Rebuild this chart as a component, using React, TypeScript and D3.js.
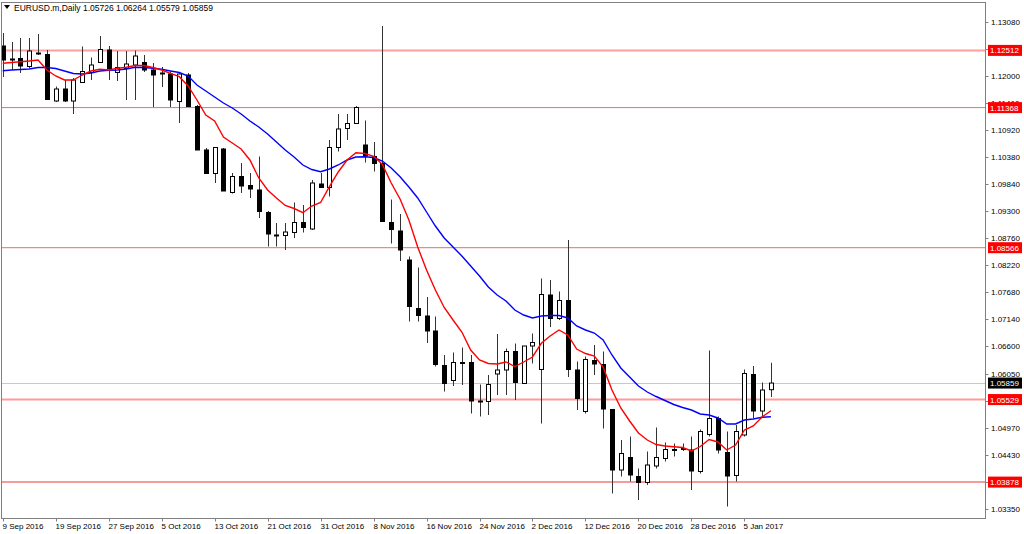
import React from 'react';
import * as d3 from 'd3';

const W = 1024;
const H = 534;

const symbolTitle = 'EURUSD.m,Daily';
const headerValues = ['1.05726', '1.06264', '1.05579', '1.05859'];

// OHLC per daily bar (9 Sep 2016 .. 10 Jan 2017)
const opens = [
  1.1260, 1.1233, 1.1235, 1.1219, 1.1246, 1.1243, 1.1150, 1.1174, 1.1150, 1.1187,
  1.1207, 1.1227, 1.1252, 1.1207, 1.1215, 1.1222, 1.1227, 1.1212, 1.1206, 1.1204,
  1.1149, 1.1202, 1.1139, 1.1052, 1.1005, 1.1054, 1.0967, 1.0999, 1.0981, 1.0972,
  1.0927, 1.0882, 1.0881, 1.0887, 1.0907, 1.0894, 1.0984, 1.0977, 1.1057, 1.1095,
  1.1105, 1.1062, 1.1039, 1.1025, 1.0907, 1.0890, 1.0832, 1.0735, 1.0720, 1.0690,
  1.0621, 1.0591, 1.0627, 1.0627, 1.0550, 1.0549, 1.0604, 1.0612, 1.0649, 1.0585,
  1.0660, 1.0613, 1.0762, 1.0715, 1.0751, 1.0612, 1.0529, 1.0631, 1.0623, 1.0533,
  1.0412, 1.0437, 1.0399, 1.0387, 1.0420, 1.0435, 1.0453, 1.0454, 1.0452, 1.0409,
  1.0483, 1.0515, 1.0447, 1.0401, 1.0482, 1.0603, 1.0530, 1.05726,
];
const highs = [
  1.1286, 1.1268, 1.1276, 1.1276, 1.1284, 1.1252, 1.1179, 1.1192, 1.1196, 1.1259,
  1.1237, 1.1280, 1.1260, 1.1250, 1.1250, 1.1251, 1.1242, 1.1226, 1.1218, 1.1209,
  1.1205, 1.1206, 1.1142, 1.1056, 1.1058, 1.1056, 1.1006, 1.1026, 1.1006, 1.1039,
  1.0930, 1.0906, 1.0906, 1.0947, 1.0942, 1.0992, 1.1006, 1.1072, 1.1124, 1.1124,
  1.1140, 1.1111, 1.1068, 1.1300, 1.0953, 1.0924, 1.0839, 1.0817, 1.0758, 1.0719,
  1.0642, 1.0647, 1.0657, 1.0642, 1.0583, 1.0602, 1.0684, 1.0655, 1.0665, 1.0632,
  1.0685, 1.0795, 1.0792, 1.0769, 1.0872, 1.0629, 1.0639, 1.0662, 1.0649, 1.0534,
  1.0472, 1.0479, 1.0415, 1.0449, 1.0497, 1.0467, 1.0465, 1.0465, 1.0479, 1.0493,
  1.0651, 1.0519, 1.0489, 1.0502, 1.0613, 1.0620, 1.0587, 1.06264,
];
const lows = [
  1.1198, 1.1212, 1.1206, 1.1216, 1.1242, 1.1152, 1.1148, 1.1148, 1.1124, 1.1186,
  1.1192, 1.1226, 1.1192, 1.1190, 1.1152, 1.1152, 1.1208, 1.1138, 1.1178, 1.1138,
  1.1106, 1.1138, 1.1052, 1.1005, 1.0986, 1.0970, 1.0965, 1.0966, 1.0956, 1.0916,
  1.0859, 1.0859, 1.0852, 1.0876, 1.0887, 1.0892, 1.0976, 1.0959, 1.1049, 1.1072,
  1.1104, 1.1027, 1.1009, 1.0909, 1.0865, 1.0830, 1.0709, 1.0709, 1.0666, 1.0619,
  1.0569, 1.0580, 1.0582, 1.0525, 1.0519, 1.0522, 1.0562, 1.0562, 1.0552, 1.0584,
  1.0625, 1.0505, 1.0698, 1.0712, 1.0598, 1.0532, 1.0525, 1.0602, 1.0495, 1.0365,
  1.0399, 1.0389, 1.0352, 1.0382, 1.0415, 1.0429, 1.0439, 1.0450, 1.0372, 1.0405,
  1.0479, 1.0445, 1.0339, 1.0389, 1.0479, 1.0515, 1.0519, 1.05579,
];
const closes = [
  1.1232, 1.1234, 1.1220, 1.1250, 1.1244, 1.1153, 1.1174, 1.1150, 1.1192, 1.1209,
  1.1222, 1.1253, 1.1215, 1.1217, 1.1224, 1.1240, 1.1212, 1.1202, 1.1205, 1.1152,
  1.1204, 1.1139, 1.1052, 1.1005, 1.1057, 1.0970, 1.0999, 1.0980, 1.0974, 1.0929,
  1.0884, 1.0881, 1.0888, 1.0907, 1.0897, 1.0986, 1.0977, 1.1057, 1.1094, 1.1105,
  1.1137, 1.1040, 1.1025, 1.0909, 1.0893, 1.0852, 1.0739, 1.0721, 1.0690, 1.0623,
  1.0585, 1.0627, 1.0625, 1.0550, 1.0549, 1.0583, 1.0612, 1.0649, 1.0587, 1.0660,
  1.0667, 1.0763, 1.0715, 1.0751, 1.0613, 1.0555, 1.0633, 1.0624, 1.0534, 1.0412,
  1.0445, 1.0402, 1.0387, 1.0422, 1.0437, 1.0453, 1.0452, 1.0455, 1.0410, 1.0489,
  1.0515, 1.0452, 1.0400, 1.0489, 1.0605, 1.0530, 1.0572, 1.05859,
];

// Moving averages (red = fast, blue = slow)
const maFast = [
  1.12254, 1.1227, 1.12286, 1.1230, 1.1232, 1.1212, 1.1200, 1.1192, 1.1192, 1.1202,
  1.1210, 1.12134, 1.1212, 1.12154, 1.12174, 1.1221, 1.1221, 1.1217, 1.1212, 1.12054,
  1.11986, 1.1180, 1.1152, 1.1122, 1.1110, 1.1078, 1.1066, 1.1054, 1.1032, 1.0996,
  1.0972, 1.0956, 1.0941, 1.0935, 1.09266, 1.0940, 1.0947, 1.09786, 1.1008, 1.1032,
  1.10466, 1.1045, 1.10394, 1.1023, 1.0986, 1.0954, 1.0912, 1.0858, 1.0812, 1.0772,
  1.0737, 1.0712, 1.0688, 1.0652, 1.0632, 1.0625, 1.0624, 1.0628, 1.0619, 1.0628,
  1.0638, 1.06654, 1.0680, 1.0692, 1.0682, 1.0654, 1.0645, 1.0640, 1.0618, 1.0572,
  1.0536, 1.0510, 1.0486, 1.0472, 1.0463, 1.0460, 1.04586, 1.0457, 1.0450, 1.0459,
  1.0473, 1.0468, 1.0452, 1.0462, 1.0492, 1.0500, 1.0518, 1.05306,
];
const maSlow = [
  1.12106, 1.1212, 1.1213, 1.1214, 1.1217, 1.1217, 1.1215, 1.1210, 1.1205, 1.1204,
  1.1206, 1.1210, 1.12114, 1.1212, 1.1214, 1.12174, 1.1217, 1.12154, 1.12134, 1.1210,
  1.1207, 1.1200, 1.1182, 1.1170, 1.1158, 1.1146, 1.1136, 1.1124, 1.1110, 1.1098,
  1.1084, 1.1068, 1.1052, 1.1038, 1.1022, 1.1013, 1.10086, 1.1014, 1.1022, 1.1032,
  1.1038, 1.10386, 1.1037, 1.1030, 1.1016, 1.09986, 1.0978, 1.0956, 1.0928, 1.0900,
  1.0876, 1.0858, 1.0840, 1.0820, 1.0800, 1.0778, 1.0762, 1.0750, 1.0732, 1.0722,
  1.0716, 1.0720, 1.0721, 1.0721, 1.0716, 1.0700, 1.0692, 1.0686, 1.0672, 1.0642,
  1.0616, 1.0598, 1.0580, 1.0568, 1.0559, 1.0551, 1.0543, 1.0537, 1.0532, 1.0524,
  1.0522, 1.0516, 1.0504, 1.0504, 1.0512, 1.0514, 1.05174, 1.05186,
];

const levelPrices = [1.12512, 1.11368, 1.08566, 1.05529, 1.03878];
const bidPrice = 1.05859;

const yTickValues = [
  1.1308, 1.1254, 1.12, 1.1146, 1.1092, 1.1038, 1.0984, 1.093, 1.0876, 1.0822,
  1.0768, 1.0714, 1.066, 1.0605, 1.0551, 1.0497, 1.0443, 1.0389, 1.0335,
];

const xTickLabels = [
  '9 Sep 2016', '19 Sep 2016', '27 Sep 2016', '5 Oct 2016', '13 Oct 2016',
  '21 Oct 2016', '31 Oct 2016', '8 Nov 2016', '16 Nov 2016', '24 Nov 2016',
  '2 Dec 2016', '12 Dec 2016', '20 Dec 2016', '28 Dec 2016', '5 Jan 2017',
];
const barsPerLabel = 6;

const FONT = '"Liberation Sans", Arial, sans-serif';

export default function App() {
  const plotL = 1.5;
  const plotR = 985.5;
  const plotT = 2.5;
  const plotB = 518.5;

  const n = opens.length;
  const x = d3.scaleLinear().domain([0, 87]).range([2.7, 770.9]);
  const y = d3.scaleLinear().domain([1.0335, 1.1308]).range([508.5, 22]);

  const line = d3
    .line<number>()
    .x((_, i) => x(i))
    .y((d) => y(d));

  const levelStyle = [
    { stroke: '#ffa0a0', w: 2 },
    { stroke: '#f06a6a', w: 1 },
    { stroke: '#f06a6a', w: 1 },
    { stroke: '#ff9a9a', w: 2 },
    { stroke: '#f07a7a', w: 1.5 },
  ];

  const candles = d3.range(n).map((i) => {
    const o = opens[i];
    const c = closes[i];
    const cx = Math.round(x(i));
    const top = y(Math.max(o, c));
    const bot = y(Math.min(o, c));
    const bull = c > o;
    const bh = Math.max(1, bot - top);
    return (
      <g key={i}>
        <line
          x1={cx + 0.5}
          x2={cx + 0.5}
          y1={y(highs[i])}
          y2={y(lows[i])}
          stroke="#333"
          strokeWidth={1}
        />
        {bull ? (
          <rect x={cx - 2 + 0.5} y={top} width={4} height={bh} fill="#fff" stroke="#000" strokeWidth={1} />
        ) : (
          <rect x={cx - 2} y={top - 0.5} width={5} height={bh + 1} fill="#000" />
        )}
      </g>
    );
  });

  return (
    <svg
      width={W}
      height={H}
      viewBox={`0 0 ${W} ${H}`}
      style={{ position: 'absolute', left: 0, top: 0, display: 'block', background: '#fff' }}
    >
      <defs>
        <clipPath id="plotClip">
          <rect x={plotL + 0.5} y={plotT + 0.5} width={plotR - plotL - 1} height={plotB - plotT - 1} />
        </clipPath>
      </defs>
      <rect x={0} y={0} width={W} height={H} fill="#fff" />

      <g clipPath="url(#plotClip)">
        <line x1={plotL} x2={plotR} y1={Math.round(y(bidPrice)) + 0.5} y2={Math.round(y(bidPrice)) + 0.5} stroke="#c8c8c8" strokeWidth={1} />
        {levelPrices.map((p, k) => (
          <line
            key={k}
            x1={plotL}
            x2={plotR}
            y1={y(p)}
            y2={y(p)}
            stroke={levelStyle[k].stroke}
            strokeWidth={levelStyle[k].w}
          />
        ))}
        {candles}
        <path d={line(maSlow) || ''} fill="none" stroke="#0000ff" strokeWidth={1.4} />
        <path d={line(maFast) || ''} fill="none" stroke="#ff0000" strokeWidth={1.4} />
      </g>

      <rect x={plotL} y={plotT} width={plotR - plotL} height={plotB - plotT} fill="none" stroke="#808080" strokeWidth={1} />

      <path d="M4,5 L10,5 L7,9 Z" fill="#000" />
      <text x={14} y={10.5} fontFamily={FONT} fontSize={8.5} fill="#000">
        {symbolTitle + '  ' + headerValues.join(' ')}
      </text>

      {yTickValues.map((v, k) => (
        <g key={k}>
          <line x1={plotR} x2={plotR + 3} y1={Math.round(y(v)) + 0.5} y2={Math.round(y(v)) + 0.5} stroke="#808080" />
          <text x={991} y={y(v) + 3} fontFamily={FONT} fontSize={8} fill="#000">
            {v.toFixed(5)}
          </text>
        </g>
      ))}

      {levelPrices.map((p, k) => (
        <g key={'lb' + k}>
          <rect x={988} y={y(p) - 5.5} width={34} height={11} fill="#ff0000" />
          <text x={990} y={y(p) + 3} fontFamily={FONT} fontSize={8} fill="#fff">
            {p.toFixed(5)}
          </text>
        </g>
      ))}
      <g>
        <rect x={988} y={y(bidPrice) - 5.5} width={34} height={11} fill="#000" />
        <text x={990} y={y(bidPrice) + 3} fontFamily={FONT} fontSize={8} fill="#fff">
          {bidPrice.toFixed(5)}
        </text>
      </g>

      {xTickLabels.map((lab, k) => {
        const tx = Math.round(x(k * barsPerLabel)) + 0.5;
        return (
          <g key={'x' + k}>
            <line x1={tx} x2={tx} y1={plotB} y2={plotB + 3} stroke="#808080" />
            <text x={Math.max(1, tx - 1)} y={529} fontFamily={FONT} fontSize={8} fill="#000">
              {lab}
            </text>
          </g>
        );
      })}
    </svg>
  );
}
